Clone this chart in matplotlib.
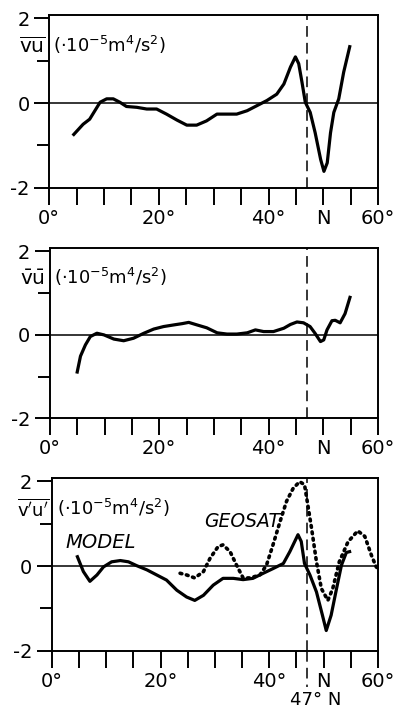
import matplotlib
matplotlib.use("Agg")
import matplotlib.pyplot as plt

# Datos: latitud (grados) y flujo de momento (10^-5 m^4/s^2)
lat_vu = [4.5, 6.2, 7.4, 9.3, 10.5, 11.7, 12.9, 14.1, 16.0, 17.8, 19.6, 21.4, 23.3, 25.1,
          26.9, 28.7, 30.6, 32.4, 34.2, 36.1, 37.9, 39.7, 41.5, 42.8, 44.0, 44.9, 45.5,
          46.1, 46.7, 47.6, 48.5, 49.5, 50.1, 50.7, 51.3, 51.9, 52.8, 53.7, 54.8]
vu = [-0.74, -0.5, -0.38, 0.02, 0.1, 0.1, 0.02, -0.08, -0.1, -0.14, -0.14, -0.26, -0.40, -0.52,
      -0.52, -0.42, -0.26, -0.26, -0.26, -0.18, -0.06, 0.06, 0.21, 0.45, 0.85, 1.09, 0.93,
      0.49, 0.02, -0.22, -0.70, -1.33, -1.61, -1.41, -0.70, -0.22, 0.10, 0.73, 1.33]

lat_vbub = [5.0, 5.6, 6.5, 7.4, 8.6, 9.9, 11.7, 13.5, 15.3, 17.2, 19.0, 20.8, 22.7, 24.2,
            25.4, 26.9, 28.7, 30.6, 32.4, 34.2, 36.1, 37.6, 39.1, 40.9, 42.8, 44.0, 45.2,
            46.4, 47.6, 48.5, 49.5, 50.1, 50.7, 51.6, 52.2, 53.1, 54.0, 54.9]
vbub = [-0.89, -0.51, -0.24, -0.04, 0.04, 0.0, -0.10, -0.14, -0.08, 0.04, 0.14, 0.20, 0.24, 0.27,
        0.30, 0.24, 0.17, 0.05, 0.02, 0.02, 0.05, 0.12, 0.08, 0.08, 0.16, 0.25, 0.31,
        0.29, 0.20, 0.04, -0.16, -0.12, 0.12, 0.34, 0.35, 0.29, 0.51, 0.90]

lat_model = [4.7, 5.8, 7.0, 8.3, 9.5, 11.0, 12.6, 14.1, 15.6, 17.5, 19.3, 21.1, 23.0, 24.8,
             26.3, 27.9, 29.7, 31.5, 33.4, 35.2, 37.0, 38.9, 40.7, 42.6, 43.8, 45.3, 45.9,
             46.5, 47.5, 48.7, 49.8, 50.5, 51.4, 52.4, 53.3, 54.2, 54.8]
model = [0.22, -0.13, -0.36, -0.21, -0.02, 0.10, 0.13, 0.10, 0.01, -0.09, -0.21, -0.33, -0.57, -0.73,
         -0.81, -0.69, -0.45, -0.29, -0.29, -0.32, -0.29, -0.17, -0.06, 0.06, 0.34, 0.74, 0.58,
         0.06, -0.21, -0.61, -1.16, -1.52, -1.16, -0.53, 0.02, 0.32, 0.34]

lat_geosat = [23.6, 24.8, 26.3, 27.9, 29.1, 30.6, 31.5, 32.8, 34.0, 35.2, 36.5, 38.3, 39.5,
              40.7, 42.0, 43.2, 44.4, 45.6, 46.5, 47.2, 47.8, 48.7, 49.6, 50.8, 51.7, 52.9,
              54.5, 56.3, 57.6, 58.8, 59.7, 60.0]
geosat = [-0.17, -0.21, -0.28, -0.13, 0.18, 0.46, 0.50, 0.34, 0.02, -0.28, -0.28, -0.21, 0.02,
          0.50, 1.05, 1.53, 1.83, 1.99, 1.92, 1.37, 0.89, 0.10, -0.53, -0.81, -0.53, 0.10,
          0.57, 0.83, 0.70, 0.26, -0.02, -0.05]

xticks = list(range(0, 61, 5))
xlabels = {0: "0°", 20: "20°", 40: "40°", 50: "N", 60: "60°"}
variables = [r"$\overline{\mathrm{vu}}$",
             r"$\bar{\mathrm{v}}\bar{\mathrm{u}}$",
             r"$\overline{\mathrm{v'u'}}$"]
unidades = r"$(\cdot 10^{-5}\mathrm{m}^4/\mathrm{s}^2)$"
# posicion x (grados) y tamano de cada etiqueta de variable
var_x = [-5.5, -5.5, -6.5]
var_size = [14.5, 14.5, 13]
uni_x = [0.8, 0.8, 0.9]

plt.rcParams["font.family"] = "DejaVu Sans"
plt.rcParams["mathtext.fontset"] = "dejavusans"

fig = plt.figure(figsize=(3.99, 7.09), dpi=100)
posiciones = [[0.123, 0.735, 0.825, 0.244],
              [0.125, 0.410, 0.822, 0.240],
              [0.130, 0.082, 0.817, 0.244]]
ejes = [fig.add_axes(p) for p in posiciones]

for i, ax in enumerate(ejes):
    ax.set_xlim(0, 60)
    ax.set_ylim(-2, 2.08)
    ax.axhline(0, color="black", lw=1.1, zorder=1)
    ax.axvline(47, color="black", lw=1.1, ls=(0, (7, 4)), zorder=1)

    ax.set_xticks(xticks)
    ax.set_xticklabels([xlabels.get(t, "") for t in xticks], fontsize=14)
    ax.set_yticks([-2, 0, 2])
    ax.set_yticklabels(["-2", "0", "2"], fontsize=14)
    ax.set_yticks([-1, 1], minor=True)
    ax.tick_params(axis="x", direction="out", length=12, width=1.4, pad=3)
    ax.tick_params(axis="y", which="major", direction="out", length=11, width=1.4, pad=3)
    ax.tick_params(axis="y", which="minor", direction="out", length=9, width=1.4)
    for s in ax.spines.values():
        s.set_linewidth(1.4)

    # Etiqueta de la magnitud sobre el eje izquierdo (tapa el eje)
    ax.text(var_x[i], 1.33, variables[i], fontsize=var_size[i], ha="left", va="center",
            bbox=dict(facecolor="white", edgecolor="none", pad=1.5), zorder=5, clip_on=False)
    ax.text(uni_x[i], 1.38, unidades, fontsize=13, ha="left", va="center", zorder=6)

# Curvas
ejes[0].plot(lat_vu, vu, color="black", lw=2.3)
ejes[1].plot(lat_vbub, vbub, color="black", lw=2.3)
ejes[2].plot(lat_model, model, color="black", lw=2.3)
ejes[2].plot(lat_geosat, geosat, color="black", lw=2.6, ls=(0, (0.5, 1.3)),
             dash_capstyle="round")

ejes[2].text(2.5, 0.55, "MODEL", fontsize=14, style="italic", ha="left", va="center")
ejes[2].text(28, 1.05, "GEOSAT", fontsize=13.5, style="italic", ha="left", va="center")

# Linea 47° N prolongada por debajo del eje
ejes[2].plot([47, 47], [-2, -2.85], color="black", lw=1.1, ls=(0, (7, 4)), clip_on=False)
ejes[2].text(48.5, -3.15, "47° N", fontsize=13, ha="center", va="center")

plt.savefig("out.png", dpi=100)
